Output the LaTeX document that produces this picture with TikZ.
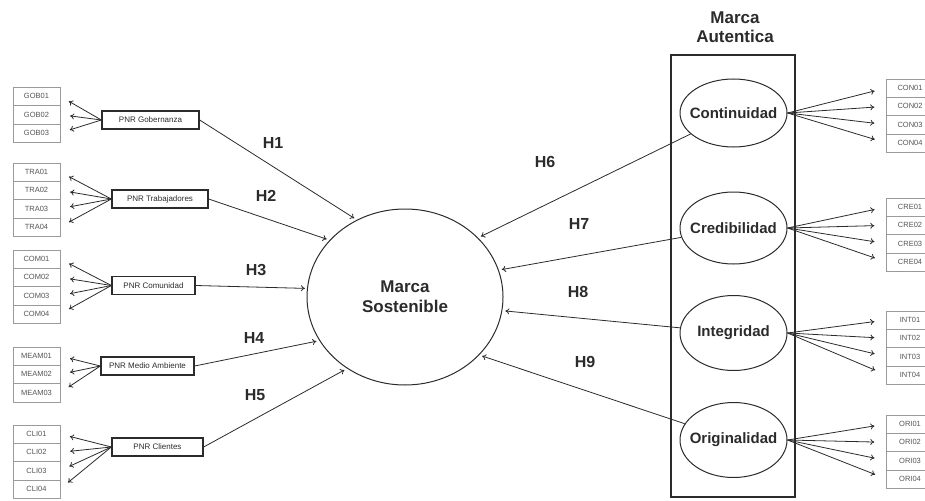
\documentclass[tikz,border=0pt]{standalone}
\usepackage{fontspec}
\setmainfont{Liberation Sans}
\usetikzlibrary{arrows.meta,positioning,shapes.geometric}
\definecolor{ink}{HTML}{2B2B2B}
\definecolor{boxgray}{HTML}{9A9A9A}
\definecolor{txtgray}{HTML}{555555}

\tikzset{
  ind/.style={draw=boxgray, minimum width=47pt, minimum height=18.3pt, inner sep=0pt,
    font=\fontsize{7.5}{8}\selectfont, text=txtgray},
  pnr/.style={draw=ink, line width=1.3pt, minimum height=18pt, inner sep=0pt,
    font=\fontsize{8}{9}\selectfont, text=ink},
  lat/.style={ellipse, draw=ink, line width=1pt, inner sep=0pt, align=center,
    font=\bfseries\fontsize{15}{17}\selectfont, text=ink},
  hlab/.style={font=\bfseries\fontsize{16}{18}\selectfont, text=ink},
  ar/.style={draw=ink, line width=0.8pt, -{To[length=4pt,width=6pt]}},
}
% text that does not widen its ellipse
\newcommand{\fixlab}[1]{\makebox[0pt]{#1}}

\begin{document}
\begin{tikzpicture}[x=1pt,y=-1pt]
\clip (0,0) rectangle (925,500);

% Indicator boxes
\foreach \nm/\lab/\n/\x/\y in {gob/GOB/3/36.5/96.3, tra/TRA/4/36.5/172, com/COM/4/36.5/259,
  meam/MEAM/3/36.5/356, cli/CLI/4/36.5/434, con/CON/4/910/88, cre/CRE/4/910/207,
  int/INT/4/910/320, ori/ORI/4/910/424}
{
  \foreach \i in {1,...,\n}
    \node[ind] (\nm\i) at (\x,{\y+18.3*(\i-1)}) {\lab0\i};
}

% PNR constructs
\node[pnr, minimum width=97pt] (pgob) at (150.5,120) {PNR Gobernanza};
\node[pnr, minimum width=96pt] (ptra) at (160,199) {PNR Trabajadores};
\node[pnr, minimum width=83pt] (pcom) at (153.5,285.5) {PNR Comunidad};
\node[pnr, minimum width=93pt] (pmed) at (147.5,366) {PNR Medio Ambiente};
\node[pnr, minimum width=91pt] (pcli) at (157.5,447) {PNR Clientes};

% Marca Sostenible
\node[lat, minimum width=196pt, minimum height=176pt,
  font=\bfseries\fontsize{17}{20}\selectfont] (ms) at (405,297) {Marca\\Sostenible};

% Marca Autentica
\node[draw=ink, line width=1.4pt, minimum width=124pt, minimum height=442pt] (autbox) at (733,276) {};
\node[align=center, text=ink, font=\bfseries\fontsize{17}{19}\selectfont] (auttitle) at (735,27) {Marca\\Autentica};
\node[lat, minimum width=107pt, minimum height=68pt] (cont) at (733.5,113) {\fixlab{Continuidad}};
\node[lat, minimum width=107pt, minimum height=72pt] (cred) at (733.5,228) {\fixlab{Credibilidad}};
\node[lat, minimum width=107pt, minimum height=75pt] (integ) at (733.5,333) {\fixlab{Integridad}};
\node[lat, minimum width=107pt, minimum height=75pt] (orig) at (733.5,440) {\fixlab{Originalidad}};

% loadings
\foreach \src/\nm/\n in {pgob/gob/3, ptra/tra/4, pcom/com/4, pmed/meam/3, pcli/cli/4}
  \foreach \i in {1,...,\n}
    \draw[ar, shorten >=10pt] (\src.west) -- (\nm\i.east);
\foreach \src/\nm in {cont/con, cred/cre, integ/int, orig/ori}
  \foreach \i in {1,...,4}
    \draw[ar, shorten >=12pt] (\src.east) -- (\nm\i.west);

% hypotheses
\draw[ar, shorten >=3pt] (pgob.east) -- (ms.122);
\draw[ar, shorten >=3pt] (ptra.east) -- (ms.143);
\draw[ar, shorten >=2pt] (pcom.east) -- (ms.175);
\draw[ar, shorten >=3pt] (pmed.east) -- (ms.207);
\draw[ar, shorten >=3pt] (pcli.east) -- (ms.231);
\draw[ar, shorten >=3pt] (cont) -- (ms.39);
\draw[ar, shorten >=3pt] (cred) -- (ms.16);
\draw[ar, shorten >=3pt] (integ) -- (ms.352);
\draw[ar, shorten >=3pt] (orig) -- (ms.322);

\node[hlab] (h1) at (273,143) {H1};
\node[hlab] (h2) at (266,196) {H2};
\node[hlab] (h3) at (256,270) {H3};
\node[hlab] (h4) at (254,338) {H4};
\node[hlab] (h5) at (255,395) {H5};
\node[hlab] (h6) at (545,162) {H6};
\node[hlab] (h7) at (579,224) {H7};
\node[hlab] (h8) at (578,292) {H8};
\node[hlab] (h9) at (585,362) {H9};
\end{tikzpicture}
\end{document}
